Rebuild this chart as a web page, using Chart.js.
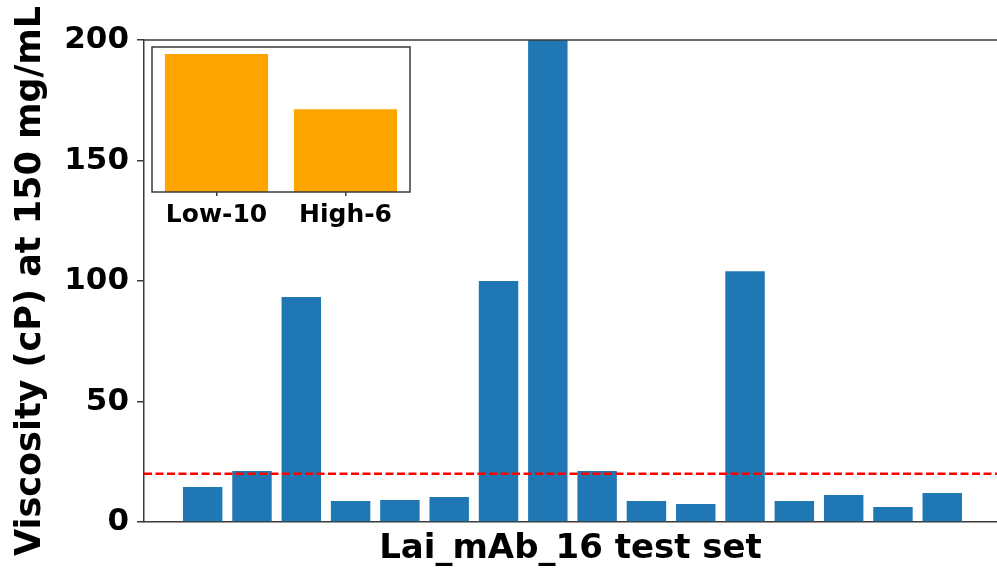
<!DOCTYPE html>
<html>
<head>
<meta charset="utf-8">
<script src="https://cdn.jsdelivr.net/npm/chart.js@4/dist/chart.umd.min.js"></script>
<style>
  html, body { margin: 0; padding: 0; background: #ffffff; overflow: hidden; }
  #wrap { position: relative; width: 997px; height: 572px; }
  #main { position: absolute; left: 0; top: 0; }
  #inset { position: absolute; left: 140px; top: 40px; }
</style>
</head>
<body>
<div id="wrap">
  <canvas id="main" width="997" height="572"></canvas>
  <canvas id="inset" width="290" height="200"></canvas>
</div>
<script>
// ---- data ----
const categories = ["1","2","3","4","5","6","7","8","9","10","11","12","13","14","15","16"];
const viscosity = [14.5, 21.2, 93.4, 8.7, 9.1, 10.4, 100, 200, 21.2, 8.7, 7.5, 104, 8.7, 11.2, 6.2, 12];
const threshold = 20;
const yTicks = [0, 50, 100, 150, 200];
const insetCategories = ["Low-10", "High-6"];
const insetCounts = [10, 6];

const xTitle = "Lai_mAb_16 test set";
const yTitle = "Viscosity (cP) at 150 mg/mL";

const FONT = "'DejaVu Sans', sans-serif";
const SPINE = '#3a3a3a';

// ---- main chart ----
const mainPlugin = {
  id: 'mainDecor',
  afterDatasetsDraw(chart) {
    const {ctx, chartArea: a, scales: {y}} = chart;
    const yp = y.getPixelForValue(threshold);
    ctx.save();
    ctx.strokeStyle = '#ff0000';
    ctx.lineWidth = 2.4;
    ctx.setLineDash([8, 3.5]);
    ctx.beginPath();
    ctx.moveTo(a.left, yp);
    ctx.lineTo(a.right, yp);
    ctx.stroke();
    ctx.restore();
    // top spine
    ctx.save();
    ctx.strokeStyle = SPINE;
    ctx.lineWidth = 1.5;
    ctx.beginPath();
    ctx.moveTo(a.left, a.top);
    ctx.lineTo(a.right, a.top);
    ctx.stroke();
    ctx.restore();
  }
};

new Chart(document.getElementById('main'), {
  type: 'bar',
  data: {
    datasets: [{
      data: viscosity.map((v, i) => ({x: i, y: v})),
      backgroundColor: '#1f77b4',
      borderWidth: 0,
      barPercentage: 0.8,
      categoryPercentage: 1.0
    }]
  },
  options: {
    responsive: false,
    animation: false,
    events: [],
    layout: { padding: { left: 0, right: 0, top: 40, bottom: 0 } },
    plugins: { legend: { display: false }, tooltip: { enabled: false } },
    scales: {
      x: {
        type: 'linear',
        offset: false,
        min: -1.19,
        max: 16.11,
        afterBuildTicks: s => { s.ticks = categories.map((_, i) => ({value: i})); },
        afterFit: s => { s.height = 50; },
        ticks: { display: false },
        grid: { display: false },
        border: { display: true, color: SPINE, width: 1.5 },
        title: {
          display: true, text: xTitle, color: '#000',
          font: { family: FONT, size: 34, weight: 'bold' },
          padding: { top: 0, bottom: 2 }
        }
      },
      y: {
        min: 0, max: 200,
        afterBuildTicks: s => { s.ticks = yTicks.map(v => ({value: v})); },
        afterFit: s => { s.width = 144; },
        ticks: { color: '#000', padding: 8, font: { family: FONT, size: 31, weight: 'bold' } },
        grid: { drawOnChartArea: false, drawTicks: true, tickLength: 7, color: SPINE, lineWidth: 1.5 },
        border: { display: true, color: SPINE, width: 1.5 },
        title: {
          display: true, text: yTitle, color: '#000',
          font: { family: FONT, size: 35, weight: 'bold' },
          padding: { top: 10, bottom: 0 }
        }
      }
    }
  },
  plugins: [mainPlugin]
});

// ---- inset chart ----
const insetPlugin = {
  id: 'insetBox',
  afterDatasetsDraw(chart) {
    const {ctx, chartArea: a} = chart;
    ctx.save();
    ctx.strokeStyle = SPINE;
    ctx.lineWidth = 1.5;
    ctx.strokeRect(a.left, a.top, a.right - a.left, a.bottom - a.top);
    ctx.restore();
  }
};

new Chart(document.getElementById('inset'), {
  type: 'bar',
  data: {
    labels: insetCategories,
    datasets: [{
      data: insetCounts,
      backgroundColor: '#ffa500',
      borderWidth: 0,
      barPercentage: 0.8,
      categoryPercentage: 1.0
    }]
  },
  options: {
    responsive: false,
    animation: false,
    events: [],
    layout: { padding: { left: 12, right: 20, top: 7, bottom: 0 } },
    plugins: { legend: { display: false }, tooltip: { enabled: false } },
    scales: {
      x: {
        type: 'category',
        offset: true,
        afterFit: s => { s.height = 48; },
        ticks: { color: '#000', padding: 4, maxRotation: 0, font: { family: FONT, size: 25, weight: 'bold' } },
        grid: { drawOnChartArea: false, drawTicks: true, tickLength: 4, color: SPINE, lineWidth: 1.5, offset: false },
        border: { display: false }
      },
      y: {
        display: false,
        min: 0,
        max: 10.5
      }
    }
  },
  plugins: [insetPlugin]
});
</script>
</body>
</html>
